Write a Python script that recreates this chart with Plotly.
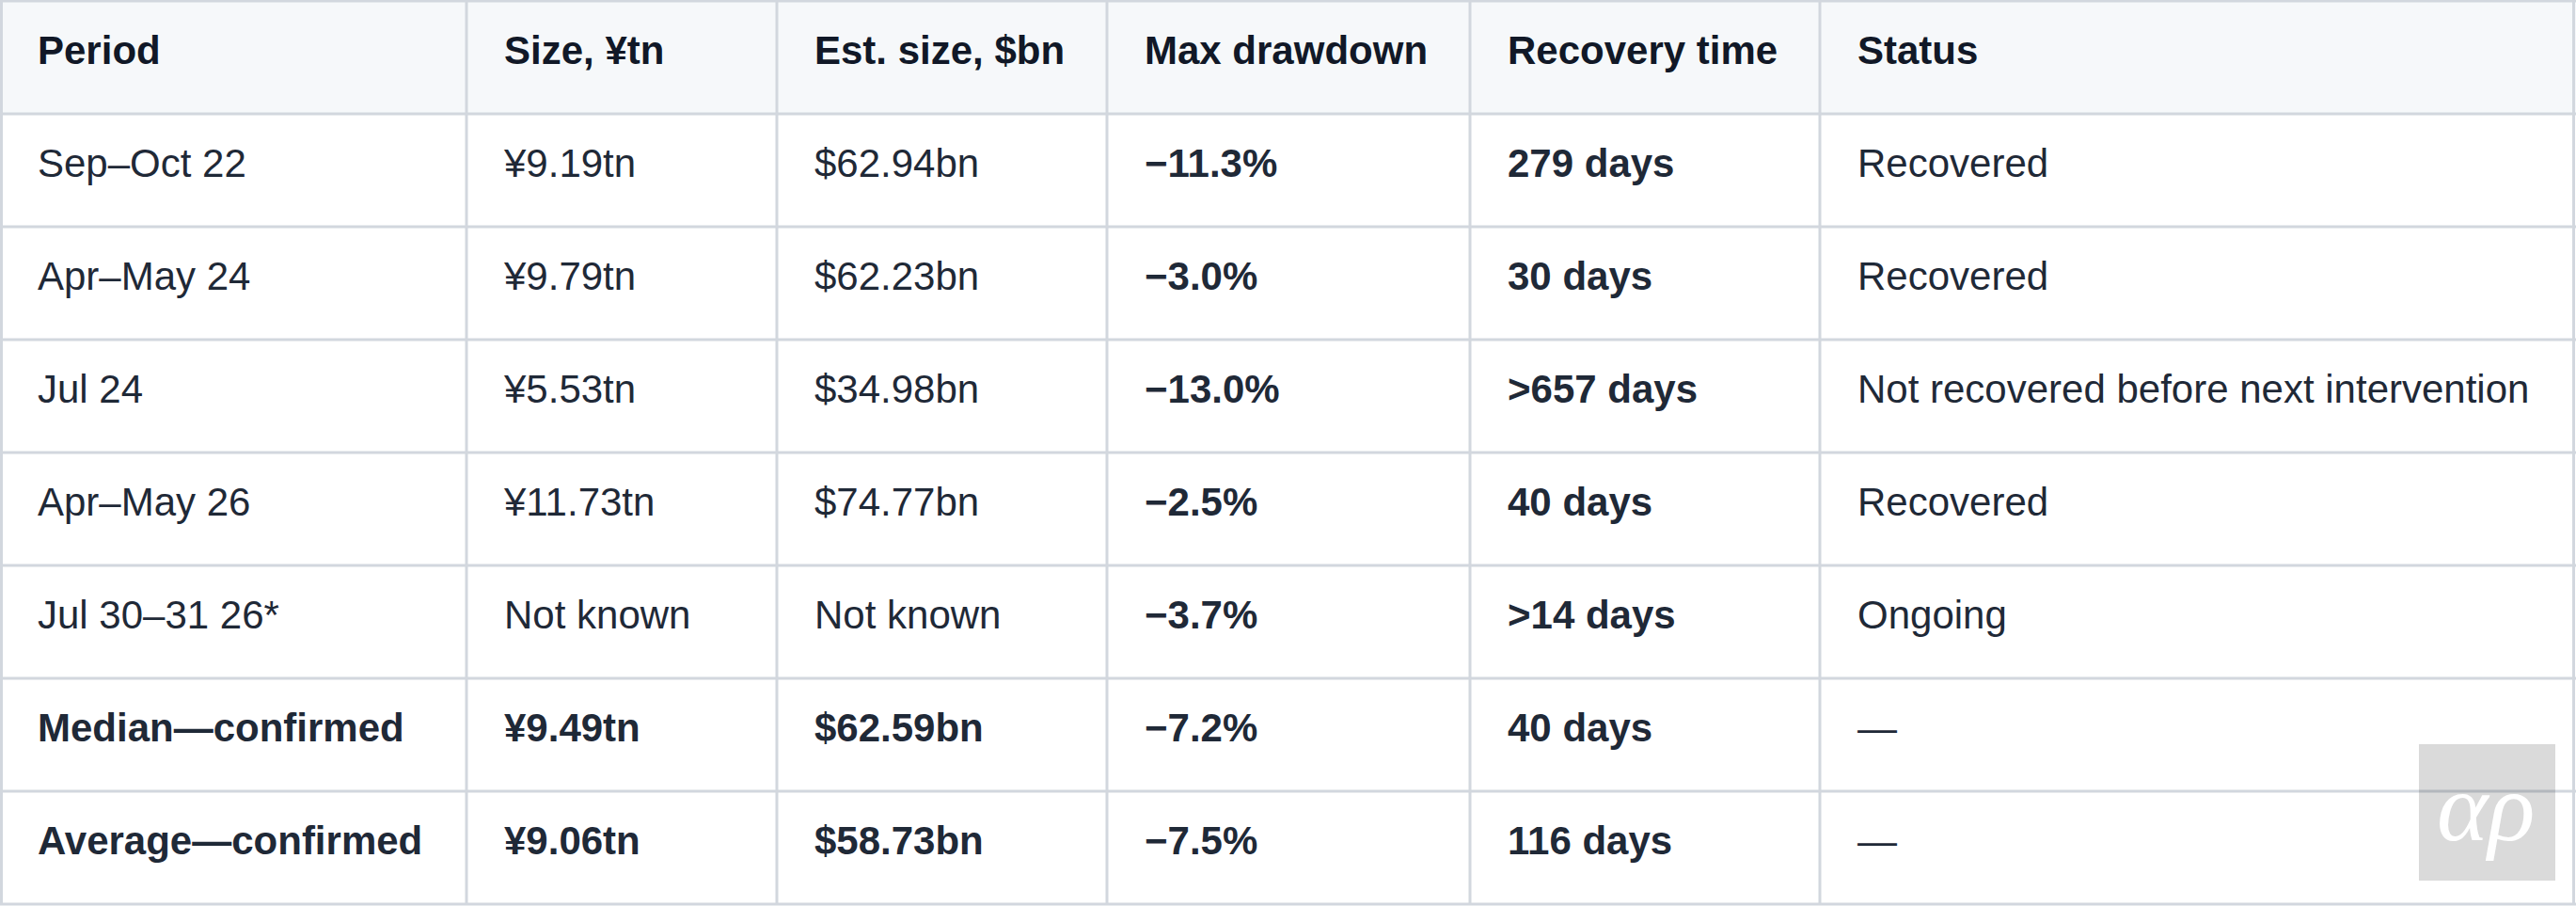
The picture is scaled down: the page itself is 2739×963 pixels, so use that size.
import plotly.graph_objects as go
import numpy as np

# table contents
headers = ["Period", "Size, ¥tn", "Est. size, $bn", "Max drawdown", "Recovery time", "Status"]
periods = ["Sep–Oct 22", "Apr–May 24", "Jul 24", "Apr–May 26", "Jul 30–31 26*",
           "Median—confirmed", "Average—confirmed"]
size_yen = ["¥9.19tn", "¥9.79tn", "¥5.53tn", "¥11.73tn", "Not known", "¥9.49tn", "¥9.06tn"]
size_usd = ["$62.94bn", "$62.23bn", "$34.98bn", "$74.77bn", "Not known", "$62.59bn", "$58.73bn"]
drawdown = ["−11.3%", "−3.0%", "−13.0%", "−2.5%", "−3.7%", "−7.2%", "−7.5%"]
recovery = ["279 days", "30 days", ">657 days", "40 days", ">14 days", "40 days", "116 days"]
status = ["Recovered", "Recovered", "Not recovered before next intervention", "Recovered",
          "Ongoing", "—", "—"]

columns = [periods, size_yen, size_usd, drawdown, recovery, status]
bold_cols = [3, 4]          # drawdown + recovery always bold
summary_rows = [5, 6]       # median / average rows bold (except status)

# layout (pixels)
W, H = 2739, 963
col_widths = [496, 330, 351, 386, 372, 804]
edges = np.concatenate([[0], np.cumsum(col_widths)])
top = 1
row_h = 120
n_rows = len(periods) + 1
pad_x = 40

FONT = "Liberation Sans, Arial, Helvetica, sans-serif"
TXT = "#1f2937"
HEAD_TXT = "#111827"
LINE = "#d2d7de"

fig = go.Figure()

for j, col in enumerate(columns):
    texts = ["<b>" + headers[j] + "</b>"]
    colors = [HEAD_TXT]
    for i, v in enumerate(col):
        bold = j in bold_cols or (i in summary_rows and j < 5)
        texts.append("<b>" + v + "</b>" if bold else v)
        colors.append(TXT)
    ys = top + row_h * np.arange(n_rows) + 56
    fig.add_trace(go.Scatter(
        x=[edges[j] + pad_x] * n_rows, y=ys, text=texts, mode="text",
        textposition="middle right",
        textfont=dict(family=FONT, size=42, color=colors),
        hoverinfo="skip", showlegend=False))

shapes = []
# header background
shapes.append(dict(type="rect", xref="x", yref="y", x0=0, x1=W, y0=top, y1=top + row_h,
                   fillcolor="#f6f8fa", line_width=0, layer="below"))
# horizontal rules
for k in range(n_rows + 1):
    y = top + row_h * k
    shapes.append(dict(type="line", xref="x", yref="y", x0=0, x1=W, y0=y, y1=y,
                       line=dict(color=LINE, width=3), layer="above"))
# vertical rules
for x in [1.5] + list(edges[1:-1]) + [W - 2.5]:
    shapes.append(dict(type="line", xref="x", yref="y", x0=x, x1=x, y0=0, y1=top + row_h * n_rows + 1,
                       line=dict(color=LINE, width=3), layer="above"))
# watermark box
shapes.append(dict(type="rect", xref="x", yref="y", x0=2572, x1=2717, y0=791, y1=936,
                   fillcolor="rgba(0,0,0,0.145)", line_width=0, layer="above"))

fig.update_layout(
    width=W, height=H,
    margin=dict(l=0, r=0, t=0, b=0),
    paper_bgcolor="white", plot_bgcolor="white",
    xaxis=dict(range=[0, W], visible=False, fixedrange=True),
    yaxis=dict(range=[H, 0], visible=False, fixedrange=True),
    shapes=shapes,
    annotations=[dict(x=2643, y=857, xref="x", yref="y", text="αρ", showarrow=False,
                      font=dict(family="Liberation Serif, Times New Roman, serif", size=104,
                                color="white", style="italic"))],
)

# page has a default body margin, drop it so the figure fills the window
fig.write_html("out.html", config={"displayModeBar": False},
               post_script="document.body.style.margin='0';document.body.style.overflow='hidden';")
